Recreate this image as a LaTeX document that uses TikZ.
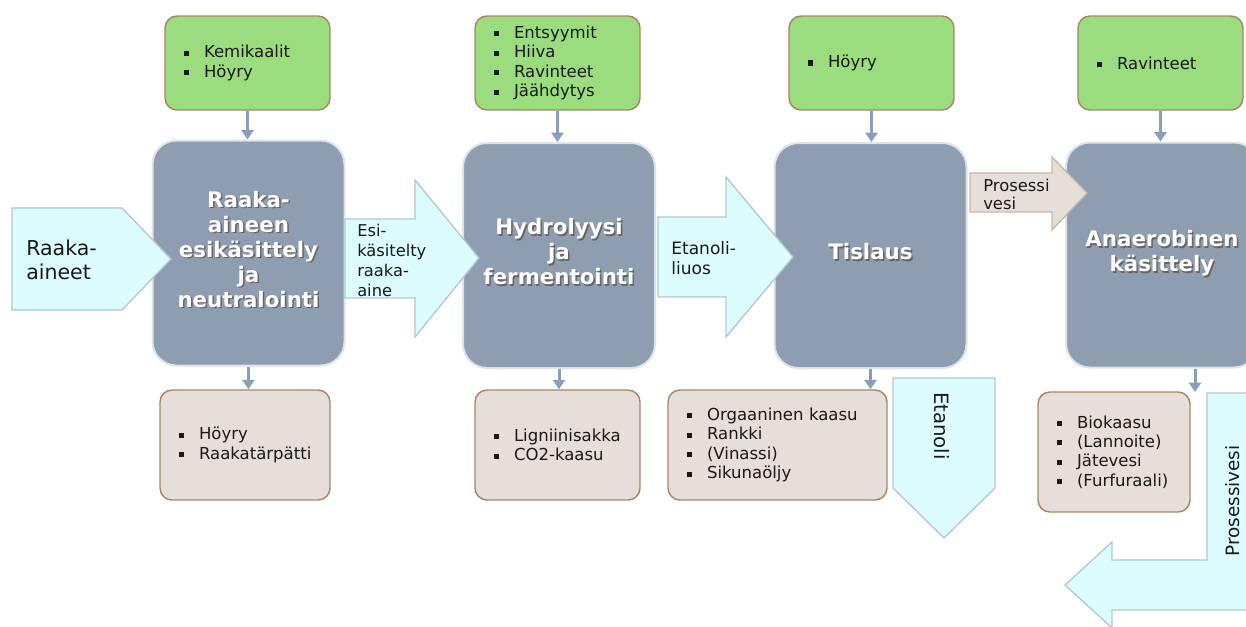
\documentclass[tikz,border=0pt]{standalone}
\usepackage{fontspec}
\setmainfont{DejaVu Sans}
\usetikzlibrary{arrows.meta}

\definecolor{procfill}{RGB}{142,157,176}
\definecolor{procedge}{RGB}{220,227,234}
\definecolor{infill}{RGB}{155,220,126}
\definecolor{outfill}{RGB}{230,223,217}
\definecolor{boxedge}{RGB}{168,134,102}
\definecolor{flowfill}{RGB}{221,252,255}
\definecolor{flowedge}{RGB}{178,200,208}
\definecolor{wateredge}{RGB}{200,182,165}
\definecolor{linkgrey}{RGB}{138,158,184}

\newcommand{\itm}[1]{\makebox[15pt][l]{\rule[1.5pt]{3.9pt}{3.9pt}}#1}
\newcommand{\shtxt}[1]{\leavevmode\rlap{\kern1.1pt\raisebox{-1.1pt}{\color{black!60}\begin{tabular}{@{}c@{}}#1\end{tabular}}}\begin{tabular}{@{}c@{}}#1\end{tabular}}

\tikzset{
  proc/.style={draw=procedge, line width=1.5pt, fill=procfill, rounded corners=18pt,
    minimum width=144pt, minimum height=168.75pt, text=white,
    font=\bfseries\fontsize{16}{18.75}\selectfont},
  inbox/.style={draw=boxedge, line width=1.1pt, fill=infill, rounded corners=9pt,
    align=left, inner xsep=14.25pt, text=black!90,
    font=\fontsize{12.4}{14.6}\selectfont},
  outbox/.style={inbox, fill=outfill},
  flow/.style={draw=flowedge, line width=1pt, fill=flowfill},
  water/.style={draw=wateredge, line width=1pt, fill=outfill},
  flowtxt/.style={align=left, inner sep=0pt, text=black!90},
  link/.style={draw=linkgrey, line width=2.25pt, -{Triangle[width=9pt,length=7pt]}},
}

\begin{document}
\begin{tikzpicture}[x=0.75pt,y=-0.75pt]
\useasboundingbox (0,0) rectangle (1246,626);
\clip (0,0) rectangle (1246,626);

% inputs
\node[inbox, text width=95.25pt, minimum height=70.5pt] (in1) at (247.5,63) {\itm{Kemikaalit}\\\itm{Höyry}};
\node[inbox, text width=95.25pt, minimum height=70.5pt] (in2) at (557.5,63) {\itm{Entsyymit}\\\itm{Hiiva}\\\itm{Ravinteet}\\\itm{Jäähdytys}};
\node[inbox, text width=95.25pt, minimum height=70.5pt] (in3) at (871.5,63) {\itm{Höyry}};
\node[inbox, text width=95.25pt, minimum height=70.5pt] (in4) at (1160.5,63) {\itm{Ravinteet}};

% process steps
\node[proc] (p1) at (248.5,253) {\shtxt{Raaka-\\aineen\\esikäsittely\\ja\\neutralointi}};
\node[proc] (p2) at (559,255.5) {\shtxt{Hydrolyysi\\ja\\fermentointi}};
\node[proc] (p3) at (870.5,255.5) {\shtxt{Tislaus}};
\node[proc] (p4) at (1162,255) {\shtxt{Anaerobinen\\käsittely}};

% outputs
\node[outbox, text width=99pt, minimum height=82.5pt] (out1) at (245,445) {\itm{Höyry}\\\itm{Raakatärpätti}};
\node[outbox, text width=95.25pt, minimum height=82.5pt] (out2) at (557.5,445) {\itm{Ligniinisakka}\\\itm{CO2-kaasu}};
\node[outbox, text width=135.75pt, minimum height=82.5pt] (out3) at (777.5,445) {\itm{Orgaaninen kaasu}\\\itm{Rankki}\\\itm{(Vinassi)}\\\itm{Sikunaöljy}};
\node[outbox, text width=85.5pt, minimum height=90pt] (out4) at (1114,452) {\itm{Biokaasu}\\\itm{(Lannoite)}\\\itm{Jätevesi}\\\itm{(Furfuraali)}};

% small arrows
\draw[link] (in1.south) -- (in1.south |- p1.north);
\draw[link] (in2.south) -- (in2.south |- p2.north);
\draw[link] (in3.south) -- (in3.south |- p3.north);
\draw[link] (in4.south) -- (in4.south |- p4.north);
\draw[link] (p1.south) -- (p1.south |- out1.north);
\draw[link] (p2.south) -- (p2.south |- out2.north);
\draw[link] (p3.south) -- (p3.south |- out3.north);
\coordinate (pvtop) at (1195,392);
\draw[link] ([xshift=24.75pt]p4.south) -- (pvtop);

% big flow arrows
\draw[flow] (12,208) -- (122,208) -- (171,259) -- (122,310) -- (12,310) -- cycle;
\node[flowtxt, anchor=west, font=\fontsize{15.4}{18}\selectfont] (raw) at (26,260) {Raaka-\\aineet};

\draw[flow] (345,219) -- (415,219) -- (415,180) -- (479,258) -- (415,337) -- (415,298) -- (345,298) -- cycle;
\node[flowtxt, anchor=west, font=\fontsize{12.2}{15}\selectfont] (pre) at (357,260) {Esi-\\käsitelty\\raaka-\\aine};

\draw[flow] (658,217) -- (726,217) -- (726,177) -- (793,257) -- (726,337) -- (726,297) -- (658,297) -- cycle;
\node[flowtxt, anchor=west, font=\fontsize{12.8}{15}\selectfont] (sol) at (671,258) {Etanoli-\\liuos};

\draw[water] (970,173) -- (1052,173) -- (1052,157) -- (1087,193) -- (1052,230) -- (1052,212) -- (970,212) -- cycle;
\node[flowtxt, anchor=west, font=\fontsize{12.3}{13.5}\selectfont] (pw) at (983,194) {Prosessi\\vesi};

\draw[flow] (893,378) -- (995,378) -- (995,488) -- (944,538) -- (893,488) -- cycle;
\node[flowtxt, rotate=-90, font=\fontsize{14.8}{18}\selectfont] (eth) at (942,426) {Etanoli};

\draw[flow] (1207,393) -- (1258,393) -- (1258,610) -- (1112,610) -- (1112,628) -- (1065,585) -- (1112,542) -- (1112,560) -- (1207,560) -- cycle;
\node[flowtxt, rotate=90, font=\fontsize{13.8}{17}\selectfont] (ret) at (1233,501) {Prosessivesi};
\end{tikzpicture}
\end{document}
